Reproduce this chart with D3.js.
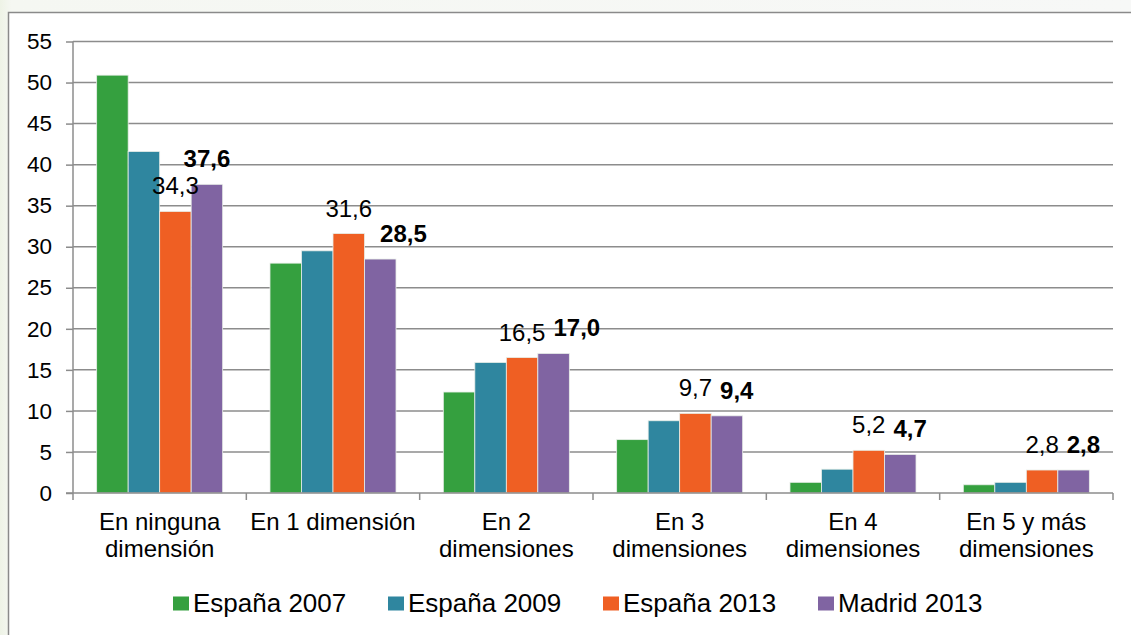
<!DOCTYPE html>
<html lang="es">
<head>
<meta charset="UTF-8">
<title>Dimensiones</title>
<script src="https://cdnjs.cloudflare.com/ajax/libs/d3/7.8.5/d3.min.js"></script>
<style>
  body { margin: 0; background: #f4f7f3; font-family: "Liberation Sans", Arial, sans-serif; }
  svg { display: block; }
  .tick text { fill: #000; }
</style>
</head>
<body>
<svg width="1131" height="635"></svg>
<script>
// datos
var categories = [["En ninguna", "dimensión"], ["En 1 dimensión"], ["En 2", "dimensiones"],
                  ["En 3", "dimensiones"], ["En 4", "dimensiones"], ["En 5 y más", "dimensiones"]];
var seriesNames = ["España 2007", "España 2009", "España 2013", "Madrid 2013"];
var espana2007 = [50.9, 28.0, 12.3, 6.5, 1.3, 1.0];
var espana2009 = [41.6, 29.5, 15.9, 8.8, 2.9, 1.3];
var espana2013 = [34.3, 31.6, 16.5, 9.7, 5.2, 2.8];
var madrid2013 = [37.6, 28.5, 17.0, 9.4, 4.7, 2.8];
var yTicks = [0, 5, 10, 15, 20, 25, 30, 35, 40, 45, 50, 55];
var colors = ["#35a03f", "#2f869f", "#ef5f23", "#8064a2"];
var labelled = { "España 2013": "normal", "Madrid 2013": "bold" };

var allSeries = [espana2007, espana2009, espana2013, madrid2013];
var rows = categories.map(function(c, i) {
  return { key: i, lines: c, values: seriesNames.map(function(s, j) { return { name: s, v: allSeries[j][i] }; }) };
});

var svg = d3.select("svg");

// fondo y marco
var bg = svg.append("defs").append("linearGradient").attr("id", "bg").attr("x1", 0).attr("x2", 1);
bg.append("stop").attr("offset", "0").attr("stop-color", "#eef3e6");
bg.append("stop").attr("offset", "0.01").attr("stop-color", "#f5f7f2");
bg.append("stop").attr("offset", "1").attr("stop-color", "#f7f8f7");
svg.append("rect").attr("width", 1131).attr("height", 635).attr("fill", "url(#bg)");
svg.append("rect").attr("x", 8.5).attr("y", 12.5).attr("width", 1140).attr("height", 640)
  .attr("fill", "#fff").attr("stroke", "#8a8a8a").attr("stroke-width", 1.5);

var plotL = 73, plotR = 1113, plotT = 41.5, plotB = 493;
var x0 = d3.scaleBand().domain(d3.range(categories.length)).range([plotL, plotR])
  .paddingInner(0.273).paddingOuter(0.1365);
var x1 = d3.scaleBand().domain(seriesNames).range([0, x0.bandwidth()]);
var y = d3.scaleLinear().domain([0, 55]).range([plotB, plotT]);

// rejilla
svg.append("g").selectAll("line").data(yTicks.filter(function(d) { return d > 0; })).join("line")
  .attr("x1", plotL).attr("x2", plotR)
  .attr("y1", function(d) { return y(d); }).attr("y2", function(d) { return y(d); })
  .attr("stroke", "#8c8c8c").attr("stroke-width", 1.5);

// eje y
var yAxis = svg.append("g").attr("transform", "translate(" + plotL + ",0)")
  .call(d3.axisLeft(y).tickValues(yTicks).tickSize(7).tickPadding(14).tickFormat(d3.format("d")));
yAxis.selectAll("line, path").attr("stroke", "#8c8c8c").attr("stroke-width", 1.5);
yAxis.select(".domain").attr("d", "M0," + plotT + "V" + plotB);
yAxis.selectAll("text").style("font-size", "22.5px").style("font-family", "Liberation Sans, Arial, sans-serif");

// barras
var groups = svg.append("g").selectAll("g").data(rows).join("g")
  .attr("transform", function(d) { return "translate(" + x0(d.key) + ",0)"; });
groups.selectAll("rect").data(function(d) { return d.values; }).join("rect")
  .attr("x", function(d) { return x1(d.name); })
  .attr("y", function(d) { return y(d.v); })
  .attr("width", x1.bandwidth())
  .attr("height", function(d) { return y(0) - y(d.v); })
  .attr("fill", function(d, i) { return colors[i]; })
  .attr("stroke", "#e8eee8").attr("stroke-width", 0.8);

// etiquetas de datos (Madrid se desplaza si choca con la barra o etiqueta de España 2013)
groups.each(function(r) {
  var g = d3.select(this);
  var labs = r.values.filter(function(v) { return labelled[v.name]; });
  var nodes = labs.map(function(d) {
    return g.append("text")
      .attr("x", x1(d.name) + x1.bandwidth() / 2)
      .attr("y", y(d.v) - 17)
      .attr("text-anchor", "middle")
      .style("font-size", "24px")
      .style("font-weight", labelled[d.name])
      .text(d.v.toFixed(1).replace(".", ","));
  });
  var a = nodes[0].node().getBBox(), b = nodes[1].node().getBBox();
  var barR = x1("España 2013") + x1.bandwidth(), barTop = y(labs[0].v);
  var need = b.x;
  if (b.y < a.y + a.height && a.y < b.y + b.height) need = Math.max(need, a.x + a.width + 8);
  if (b.y + b.height > barTop) need = Math.max(need, barR + 8);
  if (need > b.x) nodes[1].attr("x", +nodes[1].attr("x") + (need - b.x));
});

// eje x
var step = x0.step();
var xAxis = svg.append("g");
xAxis.append("line").attr("x1", plotL - 7).attr("x2", plotR).attr("y1", plotB).attr("y2", plotB)
  .attr("stroke", "#8c8c8c").attr("stroke-width", 1.5);
xAxis.selectAll("line.tk").data(d3.range(categories.length + 1)).join("line").attr("class", "tk")
  .attr("x1", function(i) { return plotL + i * step; }).attr("x2", function(i) { return plotL + i * step; })
  .attr("y1", plotB).attr("y2", plotB + 7)
  .attr("stroke", "#8c8c8c").attr("stroke-width", 1.5);
xAxis.selectAll("text").data(rows).join("text")
  .attr("y", 529.5)
  .attr("text-anchor", "middle")
  .style("font-size", "24px")
  .each(function(r) {
    var cx = x0(r.key) + x0.bandwidth() / 2;
    d3.select(this).selectAll("tspan").data(r.lines).join("tspan")
      .attr("x", cx)
      .attr("dy", function(d, i) { return i === 0 ? 0 : 27; })
      .text(function(d) { return d; });
  });

// leyenda
var legendStep = 215, legendX = 173;
var items = svg.append("g").selectAll("g").data(seriesNames).join("g")
  .attr("transform", function(d, i) { return "translate(" + (legendX + i * legendStep) + ",611.5)"; });
items.append("rect").attr("width", 16).attr("height", 14).attr("y", -15)
  .attr("fill", function(d, i) { return colors[i]; });
items.append("text").attr("x", 20).attr("y", 0).style("font-size", "26px").text(function(d) { return d; });
</script>
</body>
</html>
